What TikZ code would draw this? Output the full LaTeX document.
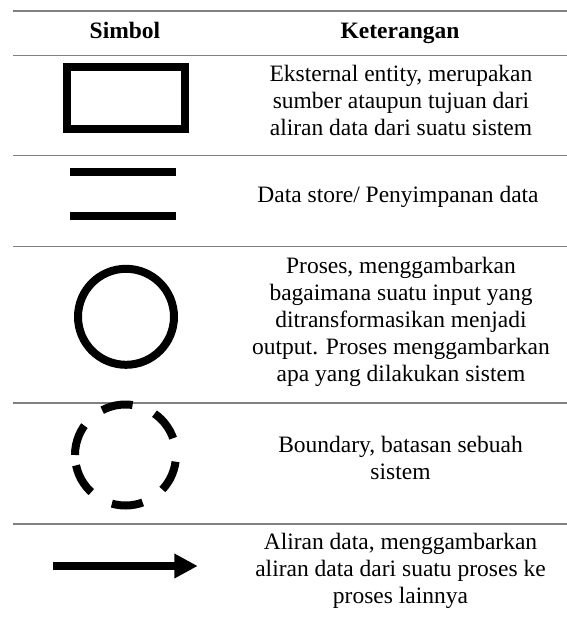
\documentclass[tikz,border=0pt]{standalone}
\usepackage{fontspec}
\setmainfont{Liberation Serif}
\usetikzlibrary{arrows.meta,positioning}

\begin{document}
\begin{tikzpicture}[x=1pt, y=-1pt, node distance=275pt]
	\tikzstyle{rule}=[draw=gray, line width=1.5pt]
	\tikzstyle{sym}=[draw=black, line width=8pt, inner sep=0pt]
	\tikzstyle{head}=[anchor=base, font=\fontsize{23.5}{27}\selectfont\bfseries]
	\tikzstyle{desc}=[align=center, text=black, font=\fontsize{23.5}{27}\selectfont]
	\useasboundingbox (0,0) rectangle (567,619);
	% garis tabel
	\foreach \y in {11,55.7,155.7,246.7,403,524}
		\draw[rule] (13,\y) -- (567,\y);
	% judul kolom
	\node[head]    (hsym) at (125,38)  {Simbol};
	\node[head]    (hket) at (400,38)  {Keterangan};
	% eksternal entity
	\node[sym, minimum width=118pt, minimum height=62pt] (ent) at (126,98.3) {};
	\node[desc]    (ent-t)[right of=ent, yshift=-2pt] {Eksternal entity, merupakan\\sumber ataupun tujuan dari\\aliran data dari suatu sistem};
	% data store
	\coordinate (store) at (123,193.7);
	\draw[sym] (70,171.7) -- (176,171.7);
	\draw[sym] (70,215.8) -- (176,215.8);
	\node[desc]    (store-t)[right of=store, yshift=-3pt] {Data store/ Penyimpanan data};
	% proses
	\node[sym, circle, minimum size=96pt] (proc) at (126,316.8) {};
	\node[desc]    (proc-t)[right of=proc, yshift=-5pt] {Proses, menggambarkan\\bagaimana suatu input yang\\ditransformasikan menjadi\\output. Proses menggambarkan\\apa yang dilakukan sistem};
	% boundary
	\coordinate (bnd) at (125.5,455);
	\draw[sym, dash pattern=on 31.3pt off 23.8pt] (bnd) ++(180:50.5) arc[start angle=180, delta angle=360, radius=50.5];
	\node[desc]    (bnd-t)[right of=bnd, yshift=-3pt] {Boundary, batasan sebuah\\sistem};
	% aliran data
	\coordinate (flow) at (125.5,566);
	\coordinate (flow-a) at (53.3,566);
	\coordinate (flow-b) at (197.7,566);
	\draw[sym, -{Triangle[length=23.4pt, width=23.3pt]}] (flow-a) -- (flow-b);
	\node[desc]    (flow-t)[right of=flow, yshift=-5pt] {Aliran data, menggambarkan\\aliran data dari suatu proses ke\\proses lainnya};
\end{tikzpicture}
\end{document}
